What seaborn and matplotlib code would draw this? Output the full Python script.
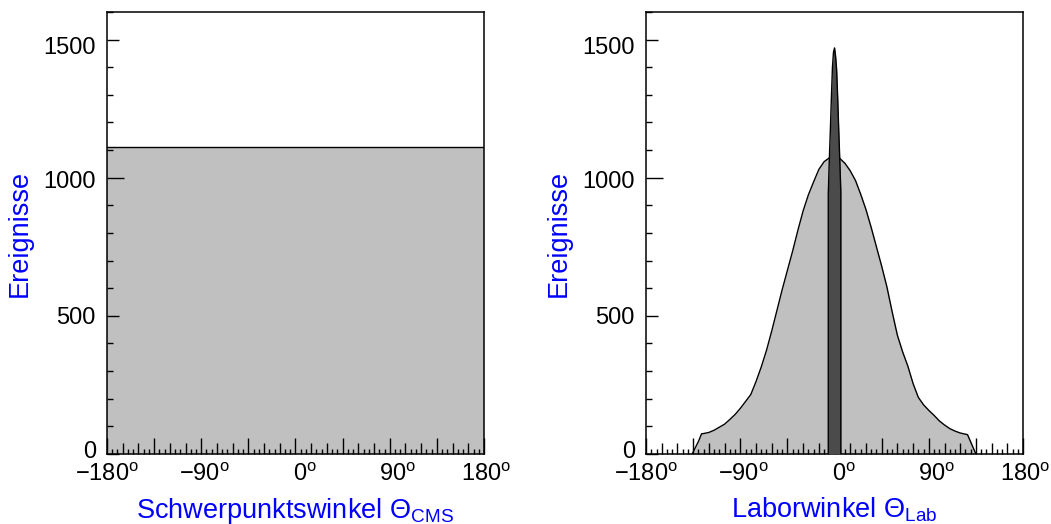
import matplotlib
matplotlib.use("Agg")
import matplotlib.pyplot as plt
import matplotlib.transforms as mtransforms
import seaborn as sns

# flat histogram in the centre-of-mass frame
cms_angles = [-180, -120, -60, 0, 60, 120, 180]
cms_counts = [1113, 1113, 1113, 1113, 1113, 1113, 1113]

# broad distribution in the lab frame
lab_angles = [-136, -130, -127, -125, -120, -115, -110, -105, -100, -95, -90, -85, -80, -75,
              -70, -65, -60, -55, -50, -45, -40, -35, -30, -25, -20, -15, -10, -5,
              0, 5, 10, 15, 20, 25, 30, 35, 40, 45, 50, 55, 60, 65, 70, 75, 80, 85,
              90, 95, 100, 105, 110, 115, 120, 127, 135]
lab_counts = [0, 45, 73, 74, 78, 86, 97, 108, 125, 143, 165, 190, 215, 262,
              315, 375, 445, 520, 595, 665, 735, 810, 880, 938, 985, 1030, 1058, 1072,
              1075, 1070, 1052, 1025, 990, 940, 885, 820, 750, 680, 605, 515, 430, 370, 318, 255, 205, 178,
              158, 140, 120, 105, 92, 83, 76, 70, 0]

# narrow forward peak in the lab frame
spike_angles = [-6, -6, -5, -4, -3, -2, -1, 0, 1, 2, 3, 4, 5, 6, 6]
spike_counts = [0, 940, 1065, 1173, 1291, 1400, 1455, 1470, 1440, 1390, 1290, 1173, 1065, 950, 0]

x_label_values = [-180, -90, 0, 90, 180]
y_label_values = [0, 500, 1000, 1500]

LIGHT = "#c0c0c0"
DARK = "#4b4b4b"

sns.set_theme(style="white")
plt.rcParams["font.family"] = ["Liberation Sans", "DejaVu Sans"]
plt.rcParams["mathtext.fontset"] = "custom"
plt.rcParams["mathtext.rm"] = "Liberation Sans"
plt.rcParams["mathtext.it"] = "Liberation Sans:italic"
plt.rcParams["mathtext.sf"] = "Liberation Sans"
plt.rcParams["axes.axisbelow"] = False


def deg_label(v):
    sign = "\u2212" if v < 0 else ""
    return sign + str(abs(v)) + r"$^{\mathrm{o}}$"


def shift(fig, label, dx_px, dy_px):
    # move a tick label by a few pixels, the way ROOT places them
    off = mtransforms.ScaledTranslation(dx_px / 100, -dy_px / 100, fig.dpi_scale_trans)
    label.set_transform(label.get_transform() + off)


def style_axes(fig, ax, xlabel):
    ax.set_xlim(-180, 180)
    ax.set_ylim(0, 1600)

    major_x = list(range(-180, 181, 45))
    minor_x = [v for v in range(-180, 181, 5) if v % 45 != 0]
    ax.set_xticks(major_x)
    ax.set_xticklabels([deg_label(v) if v in x_label_values else "" for v in major_x])
    ax.set_xticks(minor_x, minor=True)

    minor_y = [v for v in range(0, 1601, 100) if v % 500 != 0]
    ax.set_yticks(y_label_values)
    ax.set_yticklabels([str(v) for v in y_label_values])
    ax.set_yticks(minor_y, minor=True)

    ax.tick_params(axis="both", which="both", direction="in", bottom=True, left=True,
                   top=False, right=False, width=1.0, color="black",
                   labelcolor="black", labelsize=17)
    ax.tick_params(axis="x", which="major", length=11.5, pad=7)
    ax.tick_params(axis="x", which="minor", length=3.6)
    ax.tick_params(axis="y", which="major", length=8.6, pad=8)
    ax.tick_params(axis="y", which="minor", length=4.3)

    # medium ticks every 15 degrees, long tick at 1000
    for loc, tick in zip(minor_x, ax.xaxis.get_minor_ticks()):
        if loc % 15 == 0:
            tick.tick1line.set_markersize(8)
    for loc, tick in zip(y_label_values, ax.yaxis.get_major_ticks()):
        if loc == 1000:
            tick.tick1line.set_markersize(12.2)

    x_shifts = {-180: 0, -90: 3.5, 0: 9, 90: 7.5, 180: 2}
    for loc, lbl in zip(major_x, ax.get_xticklabels()):
        if loc in x_shifts:
            shift(fig, lbl, x_shifts[loc], 0)
    y_shifts = [-4.5, 0, 1.5, 6]
    for dy, lbl in zip(y_shifts, ax.get_yticklabels()):
        shift(fig, lbl, 0, dy)

    for side in ["left", "right", "top", "bottom"]:
        ax.spines[side].set_visible(True)
        ax.spines[side].set_color("black")
        ax.spines[side].set_linewidth(1.1)

    ax.set_xlabel(xlabel, color="blue", fontsize=19.5)
    ax.set_ylabel("Ereignisse", color="blue", fontsize=19.5)
    ax.xaxis.set_label_coords(0.5, -0.095)
    ax.yaxis.set_label_coords(-0.196, 0.5)


fig = plt.figure(figsize=(10.51, 5.24), dpi=100)
ax_cms = fig.add_axes([0.1018, 0.1336, 0.3587, 0.8435])
ax_lab = fig.add_axes([0.6147, 0.1336, 0.3587, 0.8435])

# left panel
ax_cms.fill_between(cms_angles, 0, cms_counts, color=LIGHT, linewidth=0, zorder=1)
sns.lineplot(x=cms_angles, y=cms_counts, color="black", linewidth=1.0, ax=ax_cms,
             estimator=None, zorder=2)

# right panel
ax_lab.fill_between(lab_angles, 0, lab_counts, color=LIGHT, linewidth=0, zorder=1)
sns.lineplot(x=lab_angles, y=lab_counts, color="black", linewidth=1.0, ax=ax_lab,
             sort=False, estimator=None, zorder=2)
ax_lab.fill_between(spike_angles, 0, spike_counts, color=DARK, linewidth=0, zorder=3)
sns.lineplot(x=spike_angles, y=spike_counts, color="black", linewidth=1.0, ax=ax_lab,
             sort=False, estimator=None, zorder=4)

style_axes(fig, ax_cms, "Schwerpunktswinkel \u0398$_{\\mathrm{CMS}}$")
style_axes(fig, ax_lab, "Laborwinkel \u0398$_{\\mathrm{Lab}}$")

fig.savefig("out.png", dpi=100)
